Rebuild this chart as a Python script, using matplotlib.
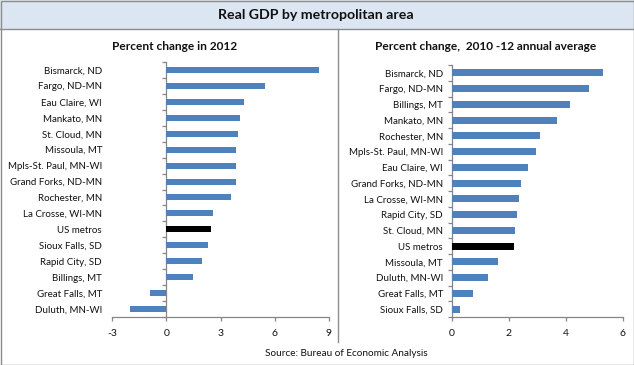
import matplotlib
matplotlib.use("Agg")
import matplotlib.pyplot as plt
from matplotlib.patches import Rectangle
from matplotlib.lines import Line2D
import numpy as np

plt.rcParams['font.family'] = ['Lato', 'DejaVu Sans']

title = "Real GDP by metropolitan area"
source = "Source: Bureau of Economic Analysis"

left_title = "Percent change in 2012"
left_cats = ["Bismarck, ND", "Fargo, ND-MN", "Eau Claire, WI", "Mankato, MN",
             "St. Cloud, MN", "Missoula, MT", "Mpls-St. Paul, MN-WI",
             "Grand Forks, ND-MN", "Rochester, MN", "La Crosse, WI-MN",
             "US metros", "Sioux Falls, SD", "Rapid City, SD", "Billings, MT",
             "Great Falls, MT", "Duluth, MN-WI"]
left_vals = [8.45, 5.47, 4.31, 4.09, 3.98, 3.88, 3.87, 3.85, 3.59, 2.6,
             2.49, 2.32, 1.99, 1.49, -0.88, -1.99]
left_ticks = [-3, 0, 3, 6, 9]

right_title = "Percent change,  2010 -12 annual average"
right_cats = ["Bismarck, ND", "Fargo, ND-MN", "Billings, MT", "Mankato, MN",
              "Rochester, MN", "Mpls-St. Paul, MN-WI", "Eau Claire, WI",
              "Grand Forks, ND-MN", "La Crosse, WI-MN", "Rapid City, SD",
              "St. Cloud, MN", "US metros", "Missoula, MT", "Duluth, MN-WI",
              "Great Falls, MT", "Sioux Falls, SD"]
right_vals = [5.31, 4.82, 4.15, 3.70, 3.10, 2.96, 2.68, 2.43, 2.36, 2.29,
              2.22, 2.19, 1.63, 1.27, 0.75, 0.29]
right_ticks = [0, 2, 4, 6]

BLUE = "#4f81bd"
AXC = "#868686"
TXT = "#111111"
W, H = 634, 365
fig = plt.figure(figsize=(W / 100, H / 100), dpi=100)


def fx(px):
    return px / W


def fy(py):
    return 1 - py / H


# Frame: title band, border, divider
fig.patches.append(Rectangle((0, fy(29)), 1, 29 / H, transform=fig.transFigure,
                             facecolor="#dce6f2", edgecolor="none", zorder=0))
fig.lines.append(Line2D([0, 1], [fy(29), fy(29)], transform=fig.transFigure,
                        color="#8c8c8c", lw=1))
fig.patches.append(Rectangle((fx(0.5), fy(364.5)), fx(633), 364 / H,
                             transform=fig.transFigure, facecolor="none",
                             edgecolor="#8c8c8c", lw=1))
fig.lines.append(Line2D([fx(338), fx(338)], [fy(29), fy(342)],
                        transform=fig.transFigure, color="#8c8c8c", lw=1))

fig.text(fx(316), fy(15), title, ha="center", va="center", fontsize=10.2,
         fontweight="bold", color=TXT)
fig.text(fx(346), fy(354), source, ha="center", va="center", fontsize=7.2,
         color=TXT)


def panel(rect, cats, vals, ticks, xlim, ttl, tcx, ttl_size, barh_frac,
          label_pad, zero_inside):
    l, t, r, b = rect
    ax = fig.add_axes([fx(l), fy(b), fx(r - l), (b - t) / H])
    n = len(cats)
    y = np.arange(n)
    colors = ["black" if c == "US metros" else BLUE for c in cats]
    ax.barh(y, vals, height=barh_frac, color=colors, zorder=3)
    ax.set_ylim(n - 0.5, -0.5)
    ax.set_xlim(*xlim)
    for s in ["top", "right"]:
        ax.spines[s].set_visible(False)
    ax.spines["bottom"].set_color(AXC)
    ax.spines["bottom"].set_linewidth(0.9)
    ax.set_xticks(ticks)
    ax.set_xticklabels([str(t_) for t_ in ticks])
    ax.tick_params(axis="x", length=3, width=0.9, color=AXC, pad=6,
                   labelsize=7.5, labelcolor=TXT)
    bounds = np.arange(n + 1) - 0.5
    if zero_inside:
        ax.spines["left"].set_position(("data", 0))
        ax.spines["left"].set_color(AXC)
        ax.spines["left"].set_linewidth(0.9)
        ax.set_yticks([])
        ax.set_yticks(bounds, minor=True)
        ax.tick_params(axis="y", which="minor", length=3, width=0.9,
                       color=AXC, direction="out")
        sec = ax.secondary_yaxis(0.0)
        sec.spines["left"].set_visible(False)
        sec.set_yticks(y)
        sec.set_yticklabels(cats)
        sec.tick_params(axis="y", length=0, pad=label_pad, labelsize=7,
                        labelcolor=TXT)
    else:
        ax.spines["left"].set_color(AXC)
        ax.spines["left"].set_linewidth(0.9)
        ax.set_yticks(y)
        ax.set_yticklabels(cats)
        ax.set_yticks(bounds, minor=True)
        ax.tick_params(axis="y", which="major", length=0, pad=label_pad,
                       labelsize=7, labelcolor=TXT)
        ax.tick_params(axis="y", which="minor", length=3, width=0.9,
                       color=AXC)
    fig.text(fx(tcx), fy(47), ttl, ha="center", va="center",
             fontsize=ttl_size, fontweight="bold", color=TXT)
    return ax


panel((112, 62, 329, 317), left_cats, left_vals, left_ticks, (-3, 9),
      left_title, 175, 8.6, 0.38, 7.2, True)
panel((451.7, 65, 622.7, 317), right_cats, right_vals, right_ticks, (0, 6),
      right_title, 486, 8.6, 0.45, 6.3, False)

fig.savefig("out.png", dpi=100)
